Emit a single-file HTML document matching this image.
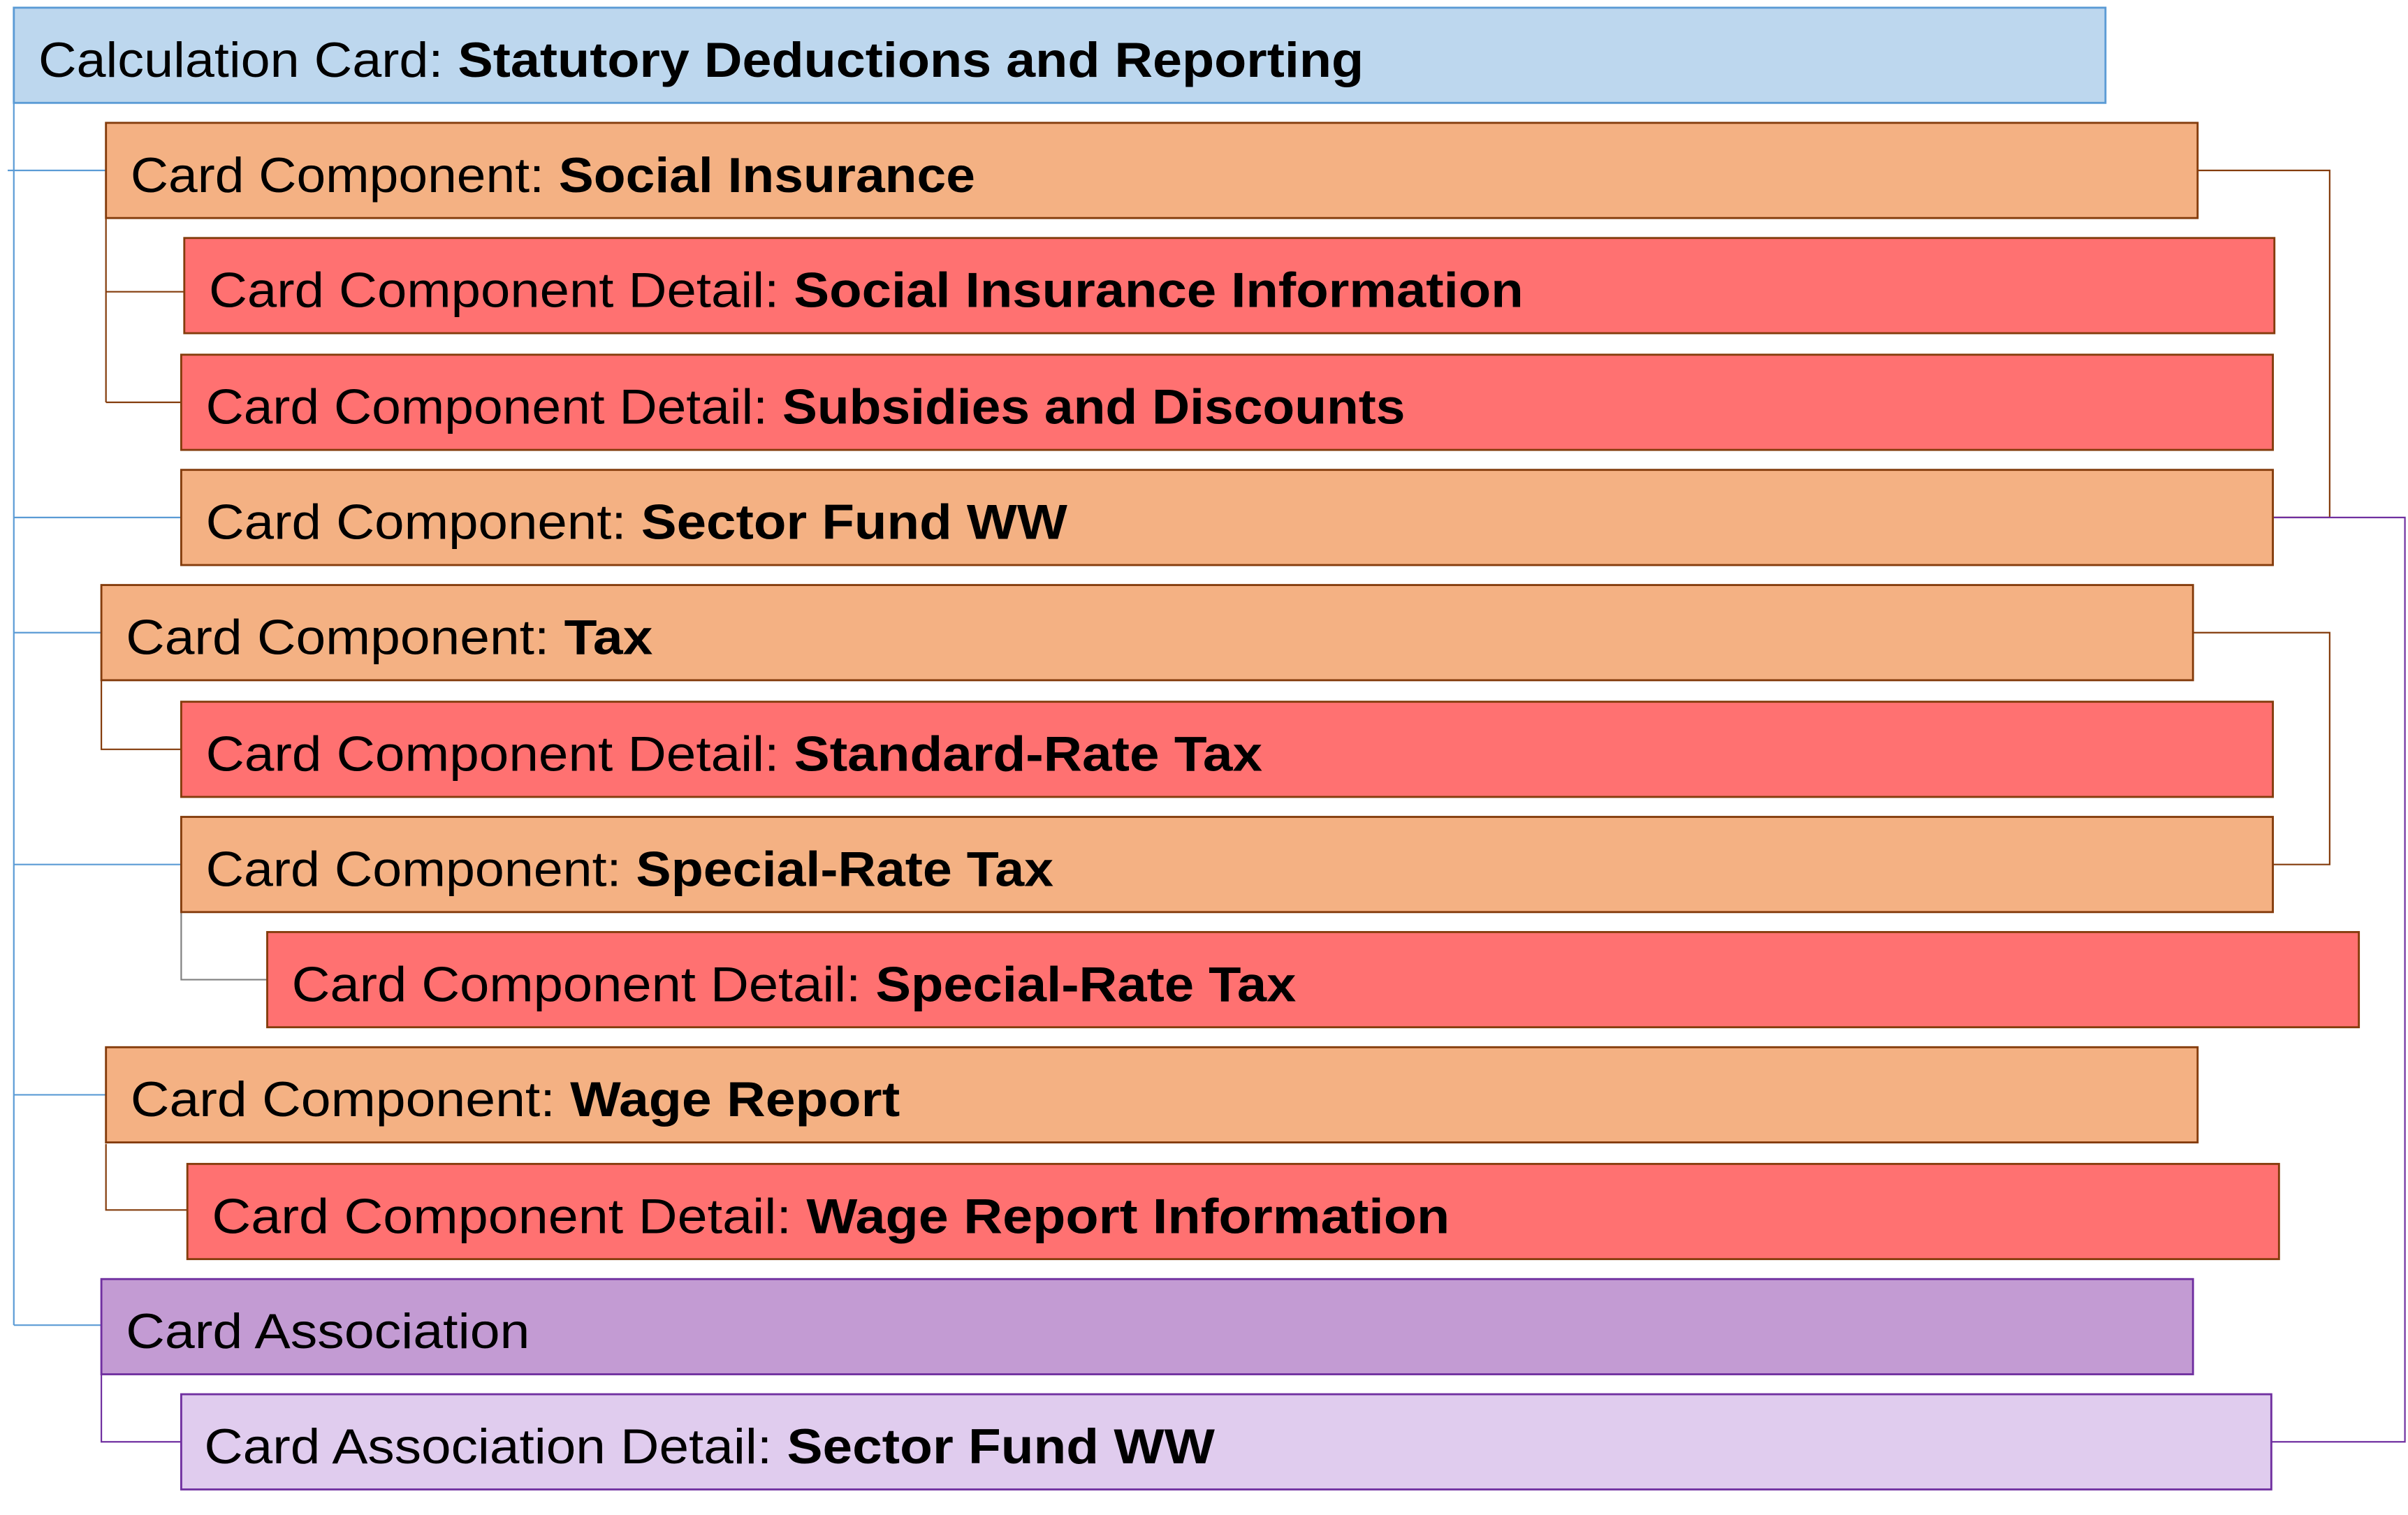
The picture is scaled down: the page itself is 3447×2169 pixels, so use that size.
<!DOCTYPE html>
<html><head><meta charset="utf-8"><style>
html,body{margin:0;padding:0;background:#fff;}
svg{display:block;}
text{font-family:"Liberation Sans",sans-serif;font-size:32px;fill:#000;}
.b{font-weight:bold;}
</style></head><body>
<svg width="3447" height="2169" viewBox="0 0 1568 986.65" preserveAspectRatio="none" xmlns="http://www.w3.org/2000/svg">
<g stroke="#5B9BD5" stroke-width="1" fill="none">
<path d="M9 40 V863 M5 111 H69 M9 337 H118 M9 412 H66 M9 563 H118 M9 713 H69 M9 863 H66"/>
</g>
<g stroke="#843C0C" stroke-width="1" fill="none">
<path d="M69 142 V262 M69 190 H120 M69 262 H118"/>
<path d="M66 443 V488 H118"/>
<path d="M69 745 V788 H122"/>
<path d="M1431 111 H1517 V337 H1480"/>
<path d="M1428 412 H1517 V563 H1480"/>
</g>
<path d="M118 594 V638 H174" stroke="#808080" stroke-width="1" fill="none"/>
<g stroke="#7030A0" stroke-width="1" fill="none">
<path d="M66 895 V939 H118"/>
<path d="M1480 337 H1566 V939 H1479"/>
</g>
<rect x="9" y="5" width="1362" height="62" fill="#BDD7EE" stroke="#5B9BD5" stroke-width="1.3"/>
<g stroke="#843C0C" stroke-width="1.3">
<rect x="69" y="80" width="1362" height="62" fill="#F4B183"/>
<rect x="120" y="155" width="1361" height="62" fill="#FF7171"/>
<rect x="118" y="231" width="1362" height="62" fill="#FF7171"/>
<rect x="118" y="306" width="1362" height="62" fill="#F4B183"/>
<rect x="66" y="381" width="1362" height="62" fill="#F4B183"/>
<rect x="118" y="457" width="1362" height="62" fill="#FF7171"/>
<rect x="118" y="532" width="1362" height="62" fill="#F4B183"/>
<rect x="174" y="607" width="1362" height="62" fill="#FF7171"/>
<rect x="69" y="682" width="1362" height="62" fill="#F4B183"/>
<rect x="122" y="758" width="1362" height="62" fill="#FF7171"/>
</g>
<g stroke="#7030A0" stroke-width="1.3">
<rect x="66" y="833" width="1362" height="62" fill="#C39BD3"/>
<rect x="118" y="908" width="1361" height="62" fill="#E0CCEE"/>
</g>
<text x="25" y="50" textLength="863" lengthAdjust="spacingAndGlyphs">Calculation Card: <tspan class="b">Statutory Deductions and Reporting</tspan></text>
<text x="85" y="125" textLength="550" lengthAdjust="spacingAndGlyphs">Card Component: <tspan class="b">Social Insurance</tspan></text>
<text x="136" y="200" textLength="856" lengthAdjust="spacingAndGlyphs">Card Component Detail: <tspan class="b">Social Insurance Information</tspan></text>
<text x="134" y="276" textLength="781" lengthAdjust="spacingAndGlyphs">Card Component Detail: <tspan class="b">Subsidies and Discounts</tspan></text>
<text x="134" y="351" textLength="561" lengthAdjust="spacingAndGlyphs">Card Component: <tspan class="b">Sector Fund WW</tspan></text>
<text x="82" y="426" textLength="343" lengthAdjust="spacingAndGlyphs">Card Component: <tspan class="b">Tax</tspan></text>
<text x="134" y="502" textLength="688" lengthAdjust="spacingAndGlyphs">Card Component Detail: <tspan class="b">Standard-Rate Tax</tspan></text>
<text x="134" y="577" textLength="552" lengthAdjust="spacingAndGlyphs">Card Component: <tspan class="b">Special-Rate Tax</tspan></text>
<text x="190" y="652" textLength="654" lengthAdjust="spacingAndGlyphs">Card Component Detail: <tspan class="b">Special-Rate Tax</tspan></text>
<text x="85" y="727" textLength="501" lengthAdjust="spacingAndGlyphs">Card Component: <tspan class="b">Wage Report</tspan></text>
<text x="138" y="803" textLength="806" lengthAdjust="spacingAndGlyphs">Card Component Detail: <tspan class="b">Wage Report Information</tspan></text>
<text x="82" y="878" textLength="263" lengthAdjust="spacingAndGlyphs">Card Association</text>
<text x="133" y="953" textLength="658" lengthAdjust="spacingAndGlyphs">Card Association Detail: <tspan class="b">Sector Fund WW</tspan></text>
</svg>
</body></html>
